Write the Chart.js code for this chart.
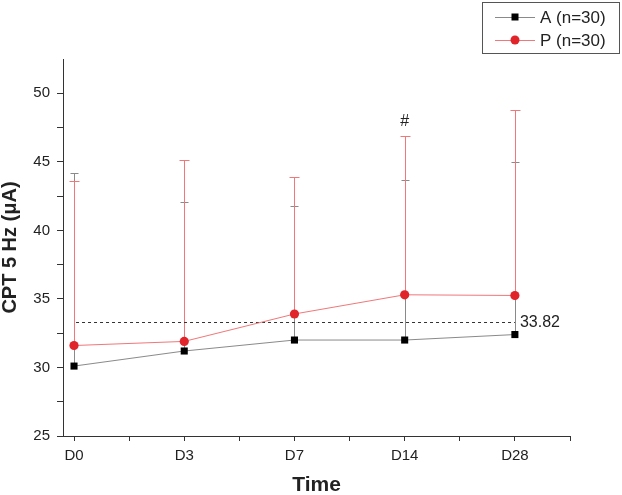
<!DOCTYPE html>
<html>
<head>
<meta charset="utf-8">
<script src="https://cdn.jsdelivr.net/npm/chart.js@4"></script>
<style>
html,body{margin:0;padding:0;background:#fff;}
#wrap{width:622px;height:495px;position:relative;}
</style>
</head>
<body>
<div id="wrap"><canvas id="c" width="622" height="495"></canvas></div>
<script>
const categories = ['D0', 'D3', 'D7', 'D14', 'D28'];
const aMean  = [30.1, 31.2, 32.0, 32.0, 32.4];
const aUpper = [44.2, 42.1, 41.8, 43.7, 45.0];
const pMean  = [31.6, 31.9, 33.9, 35.3, 35.25];
const pUpper = [43.6, 45.1, 43.9, 46.9, 48.8];
const seriesNames = ['A (n=30)', 'P (n=30)'];
const refLineValue = 33.3;
const refLineLabel = '33.82';
const markText = '#';
const markIndex = 3;
const markValue = 47.9;
const yTicks = [25, 27.5, 30, 32.5, 35, 37.5, 40, 42.5, 45, 47.5, 50];
const xTicks = [0, 0.5, 1, 1.5, 2, 2.5, 3, 3.5, 4, 4.5];

const FONT = '"Liberation Sans", Arial, sans-serif';
const GRAY = '#8a8a8a';
const RED_LINE = '#f07878';
const RED_PT = '#e0242a';
const TEXT = '#222';

const toPts = arr => arr.map((v, i) => ({x: i, y: v}));

const errorBars = {
  id: 'errorBars',
  beforeDatasetsDraw(chart) {
    const ctx = chart.ctx, xs = chart.scales.x, ys = chart.scales.y;
    const draw = (mean, upper, color, cap) => {
      ctx.save();
      ctx.strokeStyle = color; ctx.lineWidth = 1;
      mean.forEach((m, i) => {
        const x = Math.round(xs.getPixelForValue(i)) + 0.5;
        const y0 = ys.getPixelForValue(m), y1 = Math.round(ys.getPixelForValue(upper[i])) + 0.5;
        ctx.beginPath(); ctx.moveTo(x, y0); ctx.lineTo(x, y1);
        ctx.moveTo(x - cap, y1); ctx.lineTo(x + cap, y1); ctx.stroke();
      });
      ctx.restore();
    };
    draw(aMean, aUpper, GRAY, 4);
    draw(pMean, pUpper, RED_LINE, 5);
    ctx.save();
    ctx.strokeStyle = '#333'; ctx.lineWidth = 1; ctx.setLineDash([3, 3]);
    const yr = Math.round(ys.getPixelForValue(refLineValue)) + 0.5;
    ctx.beginPath();
    ctx.moveTo(xs.getPixelForValue(0) + 2, yr);
    ctx.lineTo(xs.getPixelForValue(categories.length - 1), yr);
    ctx.stroke();
    ctx.restore();
  },
  afterDraw(chart) {
    const ctx = chart.ctx, xs = chart.scales.x, ys = chart.scales.y;
    ctx.save();
    ctx.fillStyle = TEXT; ctx.font = '16px ' + FONT;
    ctx.textAlign = 'left'; ctx.textBaseline = 'middle';
    ctx.fillText(refLineLabel, xs.getPixelForValue(categories.length - 1) + 5, ys.getPixelForValue(refLineValue));
    ctx.textAlign = 'center';
    ctx.fillText(markText, xs.getPixelForValue(markIndex), ys.getPixelForValue(markValue));
    ctx.strokeStyle = '#555'; ctx.lineWidth = 1;
    ctx.strokeRect(482.5, 2.5, 137, 51);
    const rows = [
      {name: seriesNames[0], line: GRAY, pt: '#000', style: 'rect', y: 17},
      {name: seriesNames[1], line: RED_LINE, pt: RED_PT, style: 'circle', y: 40}
    ];
    rows.forEach(r => {
      ctx.strokeStyle = r.line; ctx.lineWidth = 1;
      ctx.beginPath(); ctx.moveTo(495, r.y + 0.5); ctx.lineTo(535, r.y + 0.5); ctx.stroke();
      ctx.fillStyle = r.pt;
      if (r.style === 'rect') ctx.fillRect(511.5, r.y - 3.5, 7, 7);
      else { ctx.beginPath(); ctx.arc(515, r.y, 4.5, 0, Math.PI * 2); ctx.fill(); }
      ctx.fillStyle = TEXT; ctx.textAlign = 'left'; ctx.textBaseline = 'middle';
      ctx.font = '17px ' + FONT;
      ctx.fillText(r.name, 540, r.y + 1);
    });
    ctx.restore();
  }
};

const bgPlugin = {
  id: 'bg',
  beforeDraw(chart) { const c = chart.ctx; c.save(); c.fillStyle = '#fff'; c.fillRect(0, 0, chart.width, chart.height); c.restore(); }
};

new Chart(document.getElementById('c'), {
  type: 'line',
  data: {
    datasets: [
      {label: seriesNames[0], data: toPts(aMean), borderColor: GRAY, borderWidth: 1,
       pointStyle: 'rect', pointRadius: 5, pointBackgroundColor: '#000', pointBorderWidth: 0, tension: 0},
      {label: seriesNames[1], data: toPts(pMean), borderColor: RED_LINE, borderWidth: 1,
       pointStyle: 'circle', pointRadius: 4.6, pointBackgroundColor: RED_PT, pointBorderWidth: 0, tension: 0}
    ]
  },
  options: {
    responsive: false, animation: false,
    layout: {padding: {left: 0, right: 52, top: 59, bottom: 0}},
    plugins: {legend: {display: false}, tooltip: {enabled: false}},
    scales: {
      x: {
        type: 'linear', min: -0.1, max: 4.5,
        afterBuildTicks: s => { s.ticks = xTicks.map(v => ({value: v})); },
        afterFit: s => { s.height = 59; },
        ticks: {
          autoSkip: false, maxRotation: 0, padding: 6, color: TEXT,
          font: {family: FONT, size: 15},
          callback: v => Number.isInteger(v) ? categories[v] : ''
        },
        grid: {drawOnChartArea: false, drawTicks: true, tickLength: 5, color: '#333'},
        border: {color: '#333', width: 1},
        title: {display: true, text: 'Time', color: TEXT, font: {family: FONT, size: 21, weight: 'bold'}, padding: {top: 0, bottom: -3}}
      },
      y: {
        min: 25, max: 52.5,
        afterBuildTicks: s => { s.ticks = yTicks.map(v => ({value: v})); },
        afterFit: s => { s.width = 63; },
        ticks: {
          autoSkip: false, padding: 7, color: TEXT,
          font: {family: FONT, size: 15},
          callback: v => (v % 5 === 0) ? String(v) : ''
        },
        grid: {drawOnChartArea: false, drawTicks: true, tickLength: 6, color: '#333'},
        border: {color: '#333', width: 1},
        title: {display: true, text: 'CPT 5 Hz (μA)', color: TEXT, font: {family: FONT, size: 20, weight: 'bold'}, padding: {top: -2, bottom: 0}}
      }
    }
  },
  plugins: [bgPlugin, errorBars]
});
</script>
</body>
</html>
